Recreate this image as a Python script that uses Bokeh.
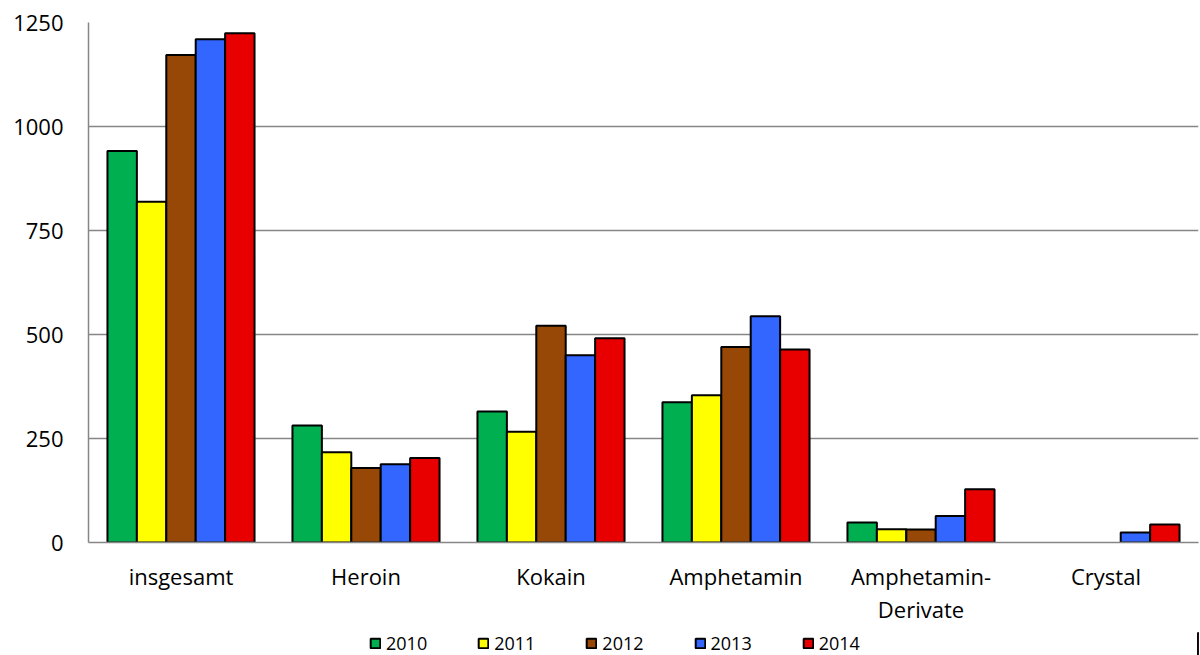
import numpy as np
from bokeh.plotting import figure
from bokeh.layouts import column
from bokeh.models import (FactorRange, Legend, LegendItem, ColumnDataSource, FixedTicker,
                          Range1d)
from bokeh.transform import dodge
from bokeh.embed import file_html
from bokeh.resources import INLINE

categories = ["insgesamt", "Heroin", "Kokain", "Amphetamin", "Amphetamin-\nDerivate", "Crystal"]
years = ["2010", "2011", "2012", "2013", "2014"]
v2010 = [941, 281, 315, 337, 48, None]
v2011 = [819, 217, 266, 354, 32, None]
v2012 = [1172, 179, 521, 470, 31, None]
v2013 = [1210, 188, 450, 544, 64, 24]
v2014 = [1224, 203, 491, 464, 128, 43]
colors = ["#00B050", "#FFFF00", "#974806", "#3366FF", "#E80000"]
y_ticks = [0, 250, 500, 750, 1000, 1250]

series = [v2010, v2011, v2012, v2013, v2014]
data = {"cat": categories}
for yr, vals in zip(years, series):
    data[yr] = [np.nan if v is None else v for v in vals]
src = ColumnDataSource(data)

FONT = "Open Sans"

p = figure(x_range=FactorRange(*categories, range_padding=0), y_range=(0, 1250),
           width=1200, height=632, output_backend="svg", toolbar_location=None,
           min_border_left=88, min_border_top=22, min_border_right=2, min_border_bottom=90)
p.outline_line_color = None
p.background_fill_color = "white"

bw = 0.159
offsets = [-2 * bw, -bw, 0, bw, 2 * bw]
bar_renderers = []
for yr, col, off in zip(years, colors, offsets):
    r = p.vbar(x=dodge("cat", off, range=p.x_range), top=yr, width=bw, source=src,
               fill_color=col, line_color="black", line_width=2)
    bar_renderers.append(r)

p.xgrid.grid_line_color = None
p.ygrid.grid_line_color = "#868686"
p.ygrid.grid_line_width = 1.5
p.yaxis.ticker = FixedTicker(ticks=y_ticks)

for ax in (p.xaxis[0], p.yaxis[0]):
    ax.axis_line_color = "#868686"
    ax.axis_line_width = 1.5
    ax.major_tick_line_color = None
    ax.minor_tick_line_color = None
    ax.major_tick_out = 0
    ax.major_tick_in = 0
    ax.minor_tick_out = 0
    ax.major_label_text_font = FONT
    ax.major_label_text_font_size = "22px"
    ax.major_label_text_color = "black"
p.yaxis[0].major_label_standoff = 25
p.xaxis[0].major_label_standoff = 18
p.xaxis[0].major_label_text_line_height = 1.1

# legend strip below the chart (frame aligned with the main chart's frame)
lf = figure(width=1200, height=23, x_range=Range1d(0, 1), y_range=Range1d(0, 1),
            x_axis_type=None, y_axis_type=None, output_backend="svg",
            toolbar_location=None, min_border=0)
lf.outline_line_color = None
lf.grid.visible = False
items = []
for yr, col in zip(years, colors):
    # swatch renderer kept outside the visible range; only its legend glyph shows
    r = lf.vbar(x=[5], top=[1], width=0.1, fill_color=col, line_color="black", line_width=2)
    items.append(LegendItem(label=yr, renderers=[r]))

legend = Legend(items=items, orientation="horizontal", location=(281, 0),
                glyph_width=12, glyph_height=12, label_standoff=5, spacing=50,
                padding=0, margin=0, border_line_color=None, label_height=18,
                label_text_font=FONT, label_text_font_size="18px",
                label_text_color="black", background_fill_alpha=0)
lf.add_layout(legend, "center")

layout = column(p, lf, spacing=0)
open("out.html", "w").write(file_html(layout, INLINE))
